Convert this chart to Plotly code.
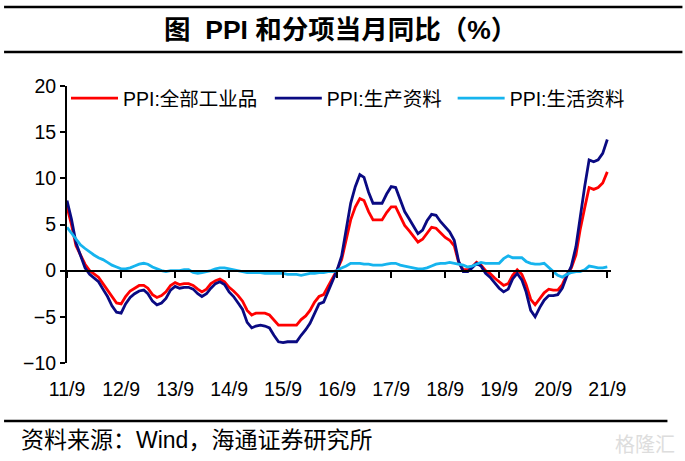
import plotly.graph_objects as go
import pandas as pd

# ---------------- data ----------------
months = pd.date_range("2011-09-01", "2021-09-01", freq="MS")
tick_dates = pd.date_range("2011-09-01", "2021-09-01", freq="12MS")
tick_labels = ["11/9", "12/9", "13/9", "14/9", "15/9", "16/9", "17/9", "18/9", "19/9", "20/9", "21/9"]

series_names = ["PPI:全部工业品", "PPI:生产资料", "PPI:生活资料"]

ppi_all = [
    6.9, 5.0, 2.7, 1.7,
    0.7, 0.0, -0.3, -0.7, -1.4, -2.1, -2.9, -3.5, -3.6, -2.8, -2.2, -1.9,
    -1.6, -1.6, -1.9, -2.6, -2.9, -2.7, -2.3, -1.6, -1.3, -1.5, -1.4, -1.4,
    -1.6, -2.0, -2.3, -2.0, -1.4, -1.1, -0.9, -1.2, -1.8, -2.2, -2.7, -3.3,
    -4.3, -4.8, -4.6, -4.6, -4.6, -4.8, -5.4, -5.9, -5.9, -5.9, -5.9, -5.9,
    -5.3, -4.9, -4.3, -3.4, -2.8, -2.6, -1.7, -0.8, 0.1, 1.2, 3.3, 5.5,
    6.9, 7.8, 7.6, 6.4, 5.5, 5.5, 5.5, 6.3, 6.9, 6.9, 5.8, 4.9,
    4.3, 3.7, 3.1, 3.4, 4.1, 4.7, 4.6, 4.1, 3.6, 3.3, 2.7, 0.9,
    0.1, 0.1, 0.4, 0.9, 0.6, 0.0, -0.3, -0.8, -1.2, -1.6, -1.4, -0.5,
    0.1, -0.4, -1.5, -3.1, -3.7, -3.0, -2.4, -2.0, -2.1, -2.1, -1.5, -0.4,
    0.3, 1.7, 4.4, 6.8, 9.0, 8.8, 9.0, 9.5, 10.7,
]

ppi_prod = [
    7.6, 5.6, 3.0, 1.6,
    0.3, -0.4, -0.8, -1.2, -2.0, -2.8, -3.8, -4.5, -4.6, -3.6, -2.9, -2.5,
    -2.2, -2.1, -2.5, -3.3, -3.7, -3.5, -3.0, -2.1, -1.7, -1.9, -1.8, -1.8,
    -2.0, -2.5, -2.8, -2.5, -1.9, -1.4, -1.2, -1.5, -2.3, -2.8, -3.5, -4.2,
    -5.6, -6.2, -6.0, -5.9, -6.0, -6.2, -7.0, -7.7, -7.8, -7.7, -7.7, -7.7,
    -7.0, -6.4, -5.7, -4.6, -3.6, -3.4, -2.3, -1.1, 0.1, 1.6, 4.5, 7.3,
    9.1, 10.4, 10.1, 8.5, 7.3, 7.3, 7.3, 8.3, 9.1, 9.0, 7.6, 6.4,
    5.6, 4.8, 4.0, 4.4, 5.4, 6.1, 6.0, 5.3, 4.7, 4.2, 3.3, 1.0,
    -0.1, -0.1, 0.3, 0.8, 0.5, -0.3, -0.7, -1.3, -1.9, -2.3, -2.0, -0.9,
    -0.3, -1.0, -2.3, -4.3, -5.0, -4.0, -3.2, -2.7, -2.7, -2.6, -1.9, -0.6,
    0.5, 2.6, 5.9, 9.1, 12.0, 11.8, 12.0, 12.7, 14.2,
]

ppi_cons = [
    4.7, 4.1, 3.4, 2.8,
    2.4, 2.0, 1.7, 1.4, 1.2, 0.9, 0.6, 0.4, 0.2, 0.2, 0.3, 0.5,
    0.7, 0.8, 0.7, 0.4, 0.2, 0.0, -0.1, 0.0, 0.0, 0.0, 0.1, 0.1,
    -0.2, -0.3, -0.2, -0.1, 0.0, 0.2, 0.3, 0.3, 0.2, 0.1, 0.0, -0.1,
    -0.2, -0.2, -0.2, -0.2, -0.3, -0.3, -0.3, -0.3, -0.3, -0.4, -0.4, -0.4,
    -0.5, -0.4, -0.3, -0.3, -0.2, -0.2, -0.1, -0.1, 0.0, 0.3, 0.5, 0.8,
    0.8, 0.8, 0.7, 0.7, 0.6, 0.6, 0.6, 0.7, 0.8, 0.8, 0.6, 0.5,
    0.4, 0.3, 0.2, 0.2, 0.3, 0.5, 0.7, 0.8, 0.8, 0.9, 0.8, 0.7,
    0.6, 0.4, 0.5, 0.7, 0.9, 0.8, 0.8, 0.8, 0.8, 1.3, 1.6, 1.4,
    1.4, 1.4, 1.0, 0.8, 0.7, 0.7, 0.8, 0.4, -0.1, -0.5, -0.7, -0.4,
    -0.2, -0.1, -0.1, 0.1, 0.5, 0.4, 0.3, 0.3, 0.4,
]

y_ticks = [-10, -5, 0, 5, 10, 15, 20]
y_min, y_max = -10, 20

title_text = "<b>图  PPI 和分项当月同比（%）</b>"
source_text = "资料来源：Wind，海通证券研究所"
watermark_text = "格隆汇"

colors = ["#FF0000", "#0A0A82", "#16B4EE"]
legend_ids = ["legend", "legend2", "legend3"]
legend_left_px = [66, 270, 453]

# ---------------- layout geometry ----------------
W, H = 685, 461
L, R, T, B = 67, 73.5, 86, 98
pw = W - L - R
ph = H - T - B


def px(x):
    return (x - L) / pw


def py(y):
    return 1 - (y - T) / ph


FONT = "Liberation Sans, Arial, Noto Sans CJK SC, sans-serif"
CJK = "Noto Sans CJK SC, sans-serif"

fig = go.Figure()
for name, vals, c, lg in zip(series_names, [ppi_all, ppi_prod, ppi_cons], colors, legend_ids):
    fig.add_trace(go.Scatter(x=months, y=vals, mode="lines", name=name, legend=lg,
                             line=dict(color=c, width=2.8)))

# invisible helper trace so the bottom label axis is rendered
fig.add_trace(go.Scatter(x=[months[0]], y=[None], xaxis="x2", showlegend=False,
                         hoverinfo="skip", mode="lines"))

x_range = [months[0], months[-1] + pd.Timedelta(days=25)]
zero_pos = (0 - y_min) / (y_max - y_min)

legend_common = dict(orientation="h", xanchor="left", yanchor="top",
                     font=dict(family=FONT, size=19.5, color="black"),
                     bgcolor="rgba(0,0,0,0)", itemwidth=47)

fig.update_layout(
    width=W, height=H,
    margin=dict(l=L, r=R, t=T, b=B),
    paper_bgcolor="white", plot_bgcolor="white",
    font=dict(family=FONT, size=19.5, color="black"),
    showlegend=True,
    xaxis=dict(range=x_range, anchor="free", position=zero_pos,
               showline=True, linecolor="black", linewidth=2,
               ticks="outside", ticklen=6, tickwidth=2, tickcolor="black",
               tickvals=tick_dates, showticklabels=False,
               showgrid=False, zeroline=False),
    xaxis2=dict(range=x_range, overlaying="x", anchor="y", side="bottom",
                showline=False, ticks="outside", ticklen=9,
                tickcolor="rgba(0,0,0,0)", tickvals=tick_dates, ticktext=tick_labels,
                tickfont=dict(family=FONT, size=19.5, color="black"),
                showgrid=False, zeroline=False),
    yaxis=dict(range=[y_min, y_max], tickvals=y_ticks,
               showline=True, linecolor="black", linewidth=2,
               ticks="outside", ticklen=5, tickwidth=2, tickcolor="black",
               tickfont=dict(family=FONT, size=19.5, color="black"),
               showgrid=False, zeroline=False),
)
for lg, lx in zip(legend_ids, legend_left_px):
    fig.update_layout({lg: dict(legend_common, x=px(lx), y=py(79))})

# rules
for y0, x0, x1 in [(7, 4, 683), (52, 4, 683), (421, 4, 668)]:
    fig.add_shape(type="line", xref="paper", yref="paper",
                  x0=px(x0), x1=px(x1), y0=py(y0), y1=py(y0),
                  line=dict(color="black", width=2.5))

fig.add_annotation(text=title_text, xref="paper", yref="paper", x=px(341), y=py(30),
                   xanchor="center", yanchor="middle", showarrow=False,
                   font=dict(family="Liberation Sans, Noto Sans CJK SC", size=26.5, color="black"))
fig.add_annotation(text=source_text, xref="paper", yref="paper", x=px(19), y=py(440),
                   xanchor="left", yanchor="middle", showarrow=False,
                   font=dict(family=FONT, size=23, color="black"))
fig.add_annotation(text=watermark_text, xref="paper", yref="paper", x=px(678), y=py(443),
                   xanchor="right", yanchor="middle", showarrow=False,
                   font=dict(family=CJK, size=20, color="#dddddd"))

fig.write_html("out.html", config={"displayModeBar": False},
               post_script="document.body.style.margin='0';")
